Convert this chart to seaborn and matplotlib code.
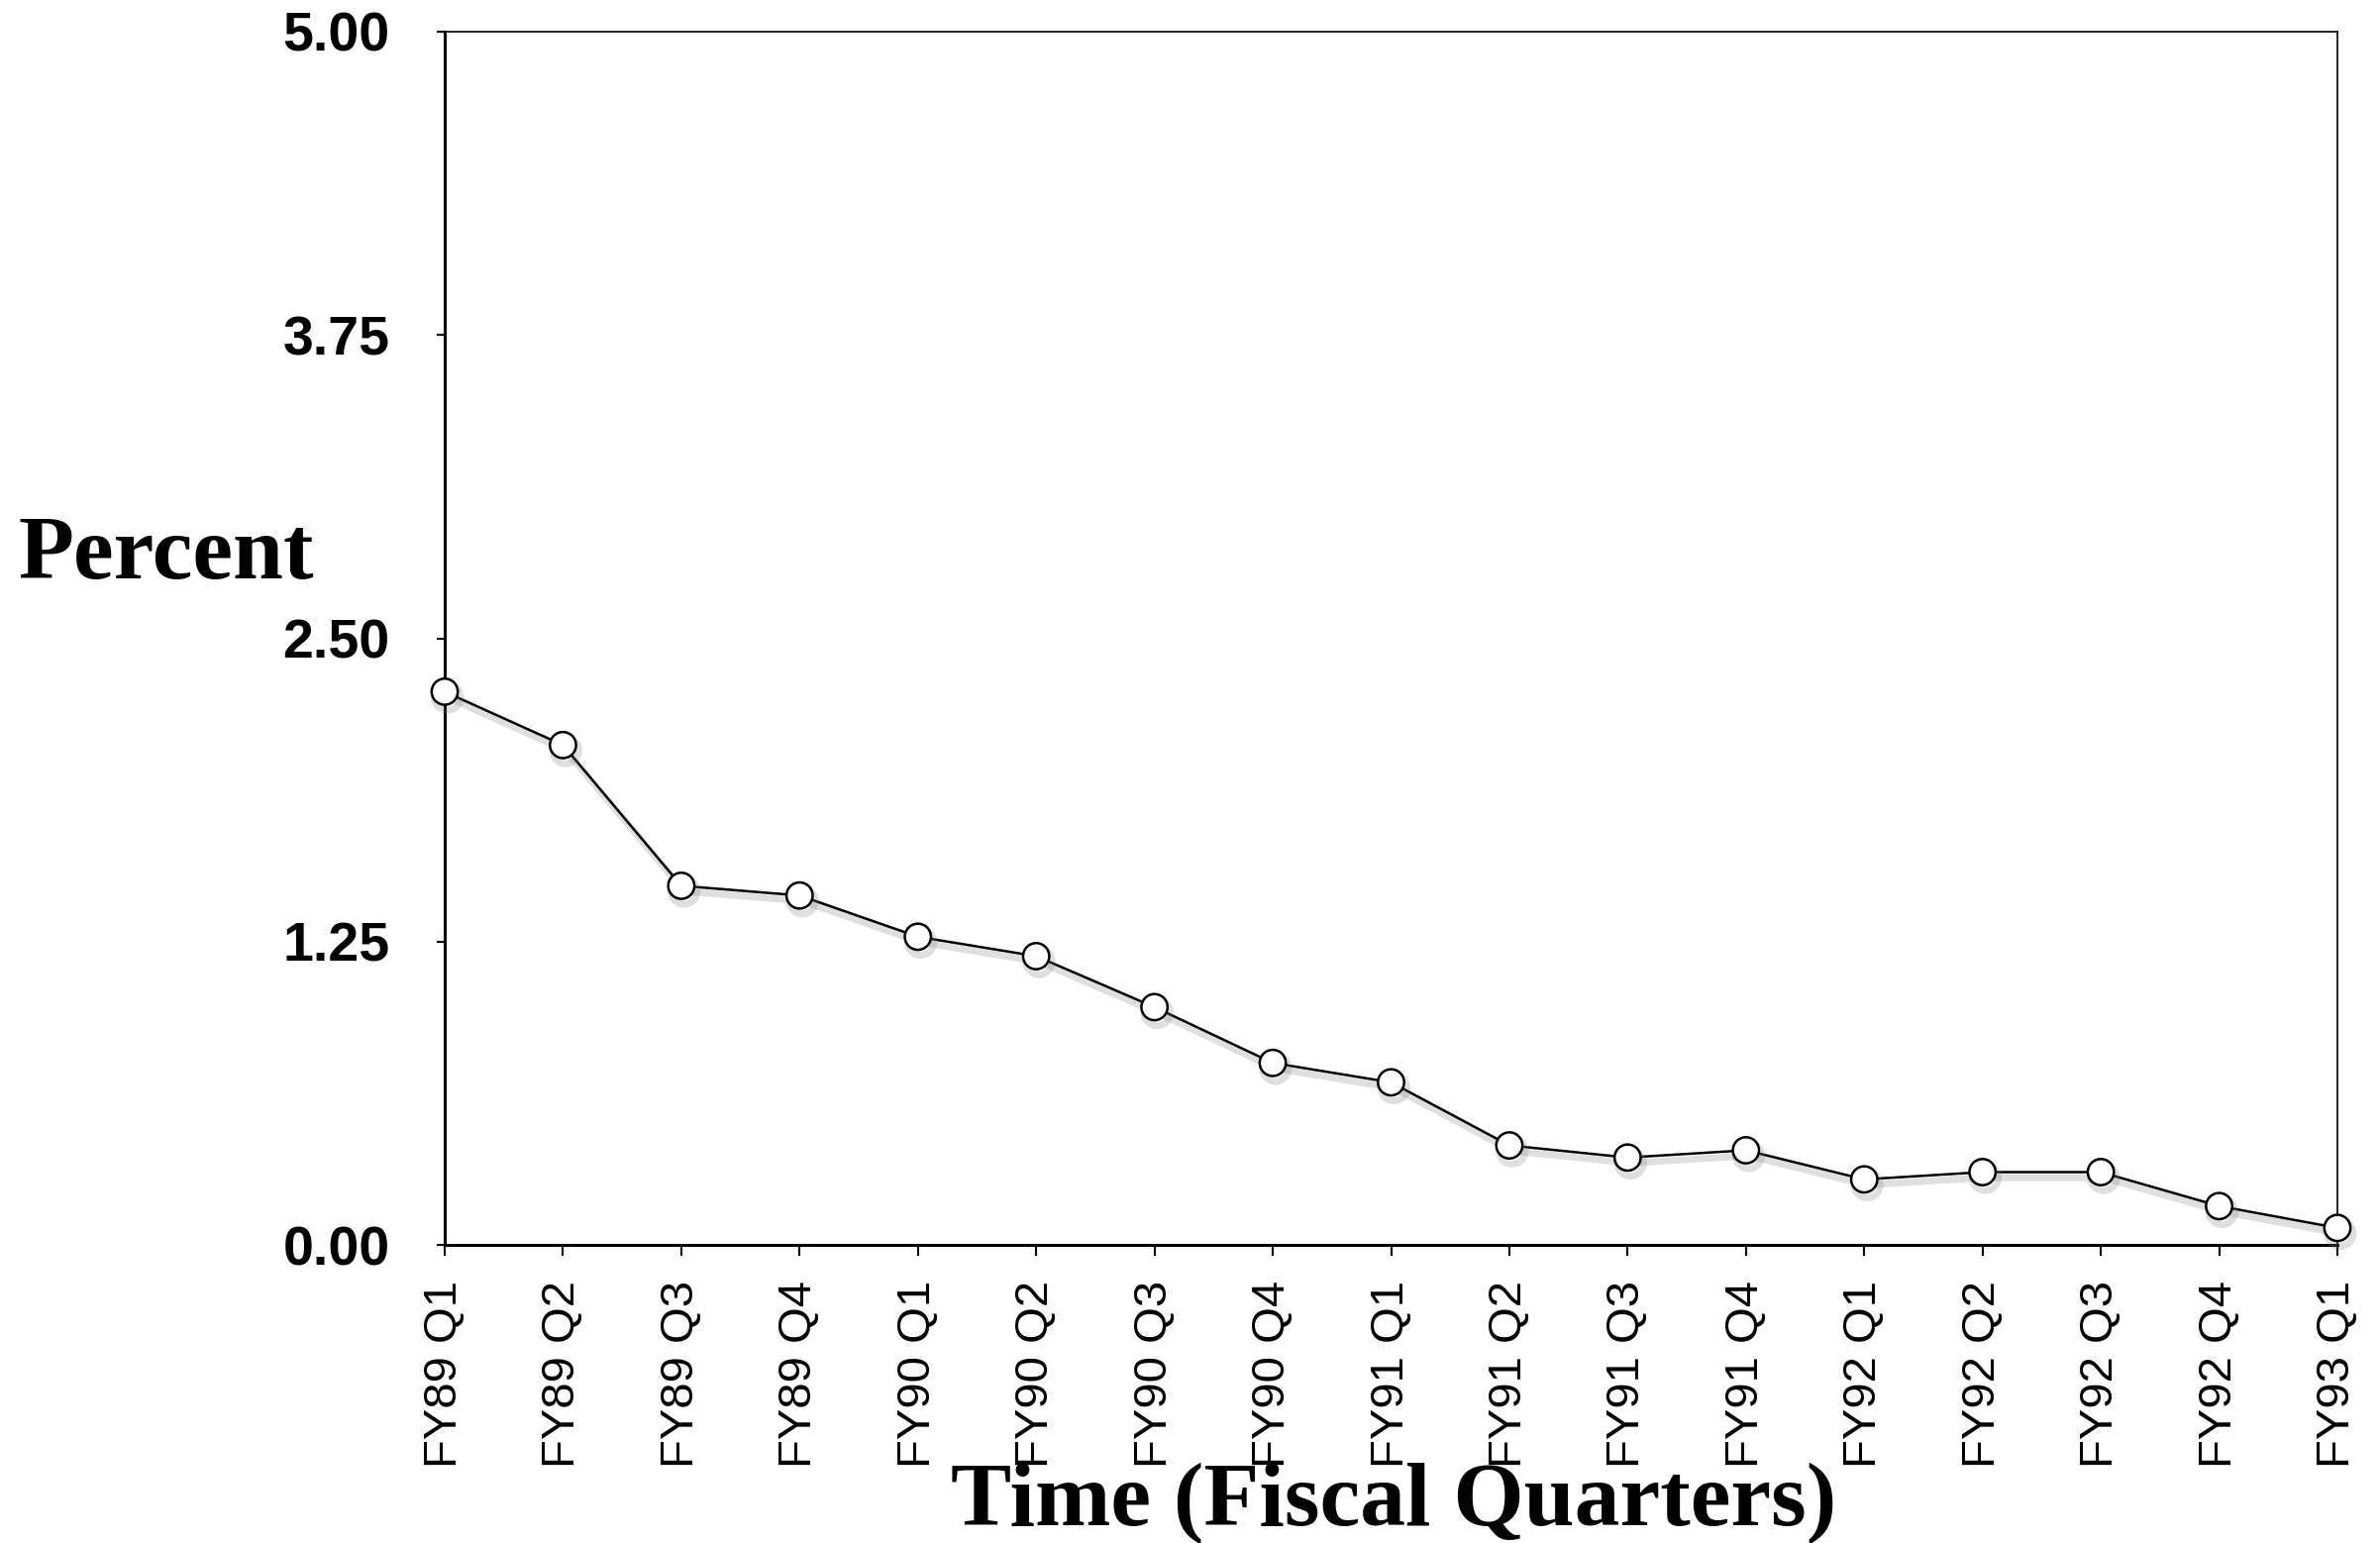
import matplotlib
matplotlib.use("Agg")
import matplotlib.pyplot as plt
import matplotlib.patheffects as pe
import pandas as pd
import seaborn as sns

# fiscal quarters on the x axis
quarters = ["FY89 Q1", "FY89 Q2", "FY89 Q3", "FY89 Q4",
            "FY90 Q1", "FY90 Q2", "FY90 Q3", "FY90 Q4",
            "FY91 Q1", "FY91 Q2", "FY91 Q3", "FY91 Q4",
            "FY92 Q1", "FY92 Q2", "FY92 Q3", "FY92 Q4",
            "FY93 Q1"]
# percent values
percent = [2.28, 2.06, 1.48, 1.44, 1.27, 1.19, 0.98, 0.75, 0.67,
           0.41, 0.36, 0.39, 0.27, 0.30, 0.30, 0.16, 0.07]
yticks = [0.0, 1.25, 2.50, 3.75, 5.00]

df = pd.DataFrame({"quarter": quarters, "percent": percent})

sns.set_style("white")
plt.rcParams["font.family"] = ["Liberation Sans", "DejaVu Sans"]
plt.rcParams["text.color"] = "black"
plt.rcParams["xtick.color"] = "black"
plt.rcParams["ytick.color"] = "black"
plt.rcParams["axes.labelcolor"] = "black"

fig = plt.figure(figsize=(24.03, 15.58), dpi=100)
ax = fig.add_axes([449 / 2403, 1 - 1257 / 1558, (2360 - 449) / 2403, (1257 - 32) / 1558])

sns.lineplot(data=df, x="quarter", y="percent", ax=ax, color="black", linewidth=1.8,
             marker="o", markersize=19, markerfacecolor="white", markeredgecolor="black",
             markeredgewidth=1.8, clip_on=False, zorder=5,
             path_effects=[pe.SimpleLineShadow(offset=(2, -4), shadow_color="gray", alpha=0.25,
                                               linewidth=5),
                           pe.Normal()])

ax.set_xlim(0, len(quarters) - 1)
ax.set_ylim(0, 5)
ax.set_yticks(yticks)
ax.set_yticklabels([f"{v:.2f}" for v in yticks], fontsize=40, fontweight="bold")
ax.set_xticks(range(len(quarters)))
ax.set_xticklabels(quarters, rotation=90, fontsize=34)
ax.set_xlabel("")
ax.set_ylabel("")

for side in ["left", "bottom"]:
    ax.spines[side].set_linewidth(2.2)
for side in ["top", "right"]:
    ax.spines[side].set_linewidth(1.2)
for s in ax.spines.values():
    s.set_color("black")

ax.tick_params(axis="y", direction="out", length=6, width=1.5, pad=34, left=True)
ax.tick_params(axis="x", direction="out", length=8, width=1.5, pad=18, bottom=True)

fig.text(18 / 2403, 1 - 562 / 1558, "Percent", fontsize=66, fontweight="bold",
         family=["Liberation Serif", "DejaVu Serif"], ha="left", va="center")
fig.text(1407 / 2403, 1 - 1540 / 1558, "Time (Fiscal Quarters)", fontsize=66, fontweight="bold",
         family=["Liberation Serif", "DejaVu Serif"], ha="center", va="baseline")

fig.savefig("out.png", dpi=100, facecolor="white")
